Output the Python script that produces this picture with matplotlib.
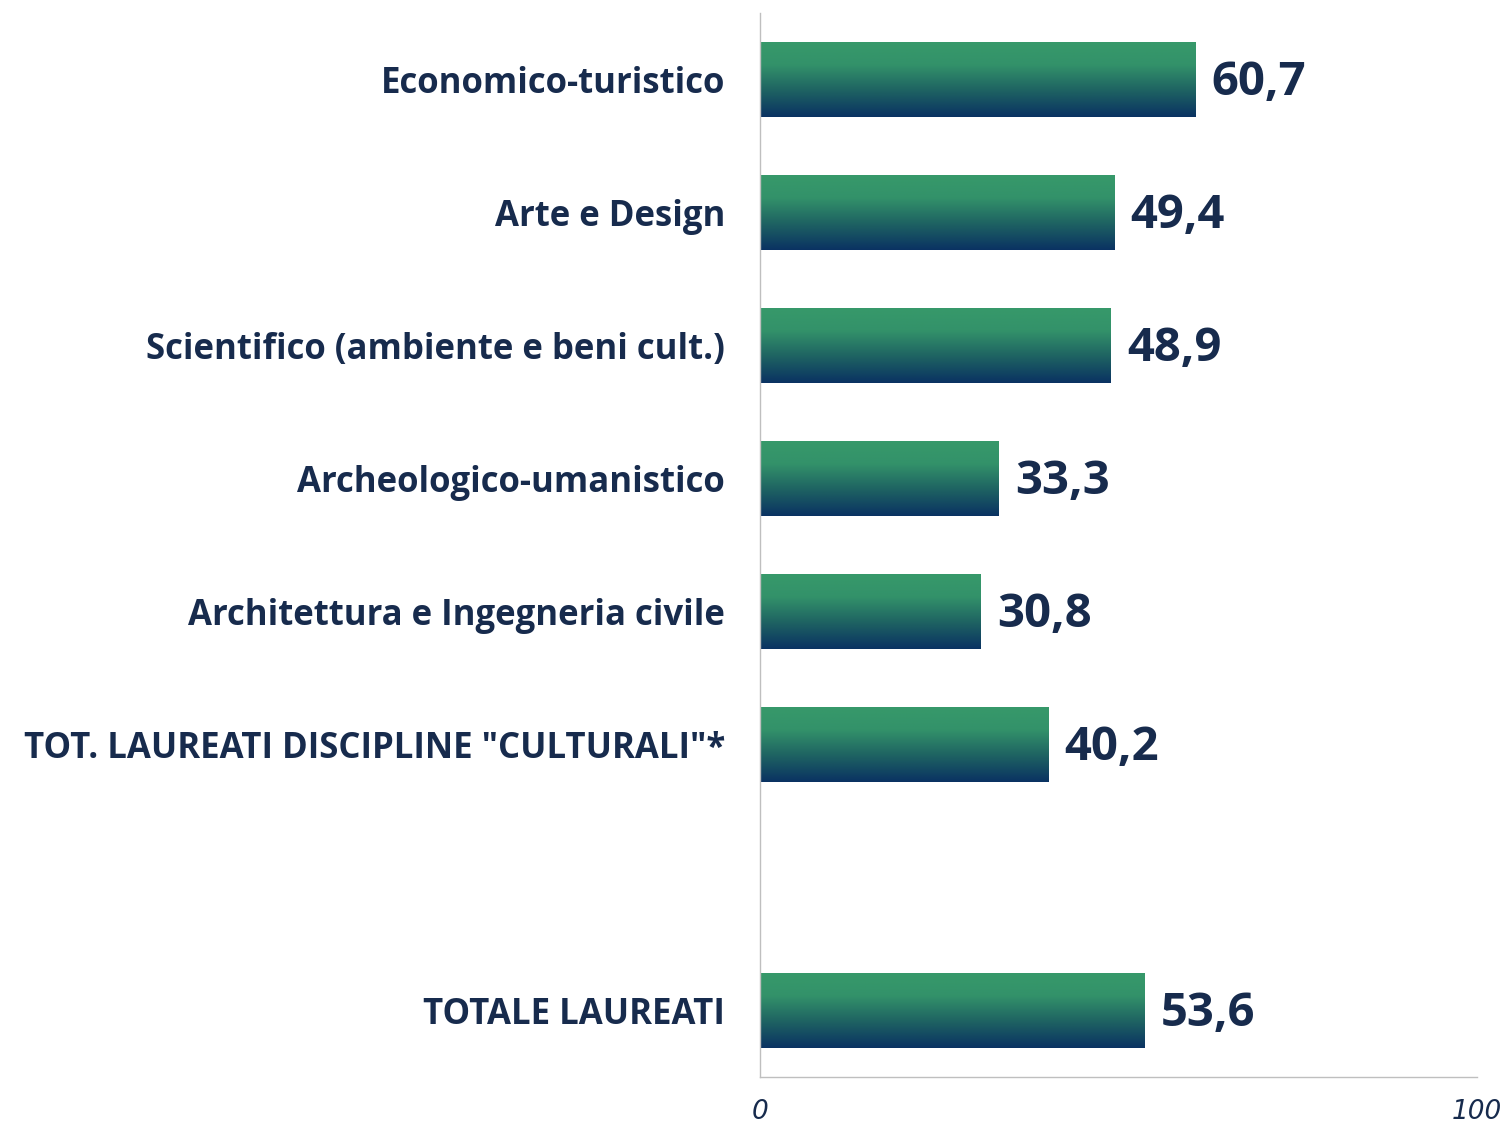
import numpy as np
import matplotlib.pyplot as plt
from matplotlib.colors import LinearSegmentedColormap

categories = ["Economico-turistico", "Arte e Design", "Scientifico (ambiente e beni cult.)",
              "Archeologico-umanistico", "Architettura e Ingegneria civile",
              'TOT. LAUREATI DISCIPLINE "CULTURALI"*', "", "TOTALE LAUREATI"]
values = [60.7, 49.4, 48.9, 33.3, 30.8, 40.2, None, 53.6]
value_labels = ["60,7", "49,4", "48,9", "33,3", "30,8", "40,2", "", "53,6"]

txt = "#172B4D"
grad = LinearSegmentedColormap.from_list(
    "g", [(0, "#37996A"), (0.3, "#33926A"), (0.65, "#1E6262"), (1, "#0A3262")])

fig = plt.figure(figsize=(15.06, 11.24), dpi=100)
ax = fig.add_axes([0.5046, 0.0418, 0.4761, 0.9466])

h = 0.56
g = np.linspace(0, 1, 256).reshape(-1, 1)
for i, v in enumerate(values):
    if v is None:
        continue
    ax.imshow(g, cmap=grad, aspect="auto", extent=[0, v, i + h / 2, i - h / 2],
              interpolation="bicubic", zorder=2)
    ax.text(v + 2.3, i + 0.02, value_labels[i], va="center", ha="left", fontsize=34,
            fontweight="bold", color=txt, family="Open Sans")
ax.set_xlim(0, 100)
ax.set_ylim(len(categories) - 0.5, -0.5)

ax.set_yticks(range(len(categories)))
ax.set_yticklabels(categories, fontsize=25, fontweight="bold", color=txt, family="Open Sans")
ax.tick_params(axis="y", length=0, pad=25)
ax.set_xticks([0, 100])
ax.set_xticklabels(["0", "100"], fontsize=19, style="italic", color=txt)
ax.tick_params(axis="x", length=0, pad=16)
for s in ["top", "right"]:
    ax.spines[s].set_visible(False)
for s in ["left", "bottom"]:
    ax.spines[s].set_color("#BFBFBF")
    ax.spines[s].set_linewidth(1)

fig.savefig("out.png", dpi=100)
